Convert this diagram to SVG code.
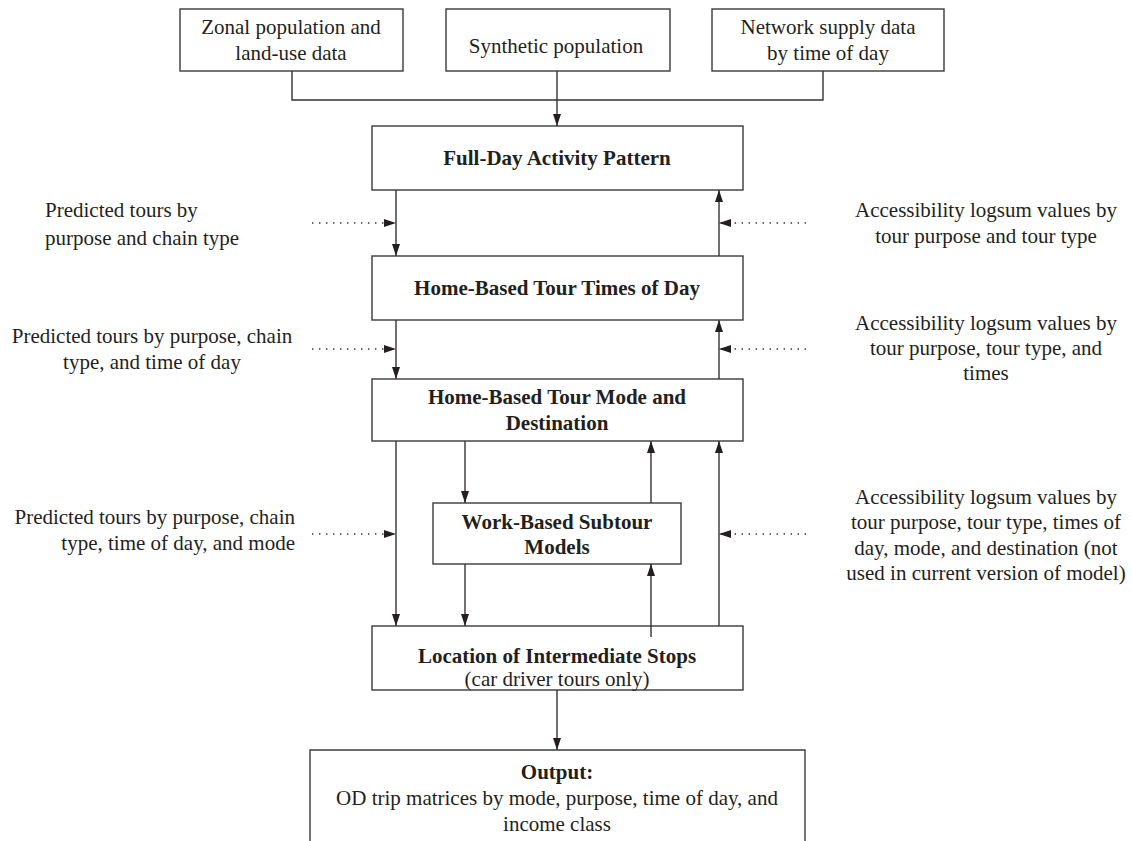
<svg xmlns="http://www.w3.org/2000/svg" width="1132" height="841" viewBox="0 0 1132 841">
<style>
.box{fill:#fff;stroke:#3a3a3a;stroke-width:1.4}
.t{font-family:"Liberation Serif","Times New Roman",serif;font-size:21px;fill:#231f20}
.b{font-weight:bold}
.m{text-anchor:middle}
.e{text-anchor:end}
.ln{fill:none;stroke:#333;stroke-width:1.4}
.dot{fill:none;stroke:#333;stroke-width:1.4;stroke-dasharray:1.4 5.6}
</style>
<defs>
<marker id="ah" viewBox="0 0 12 8" refX="12" refY="4" markerWidth="12" markerHeight="8" markerUnits="userSpaceOnUse" orient="auto"><path d="M0,0 L12,4 L0,8 z" fill="#231f20"/></marker>
</defs>
<rect width="1132" height="841" fill="#fff"/>
<g id="connectors">
<path class="ln" d="M292,71 V100 H823 V71"/>
<path class="ln" d="M557,71 V126" marker-end="url(#ah)"/>
<path class="ln" d="M396,190 V256" marker-end="url(#ah)"/>
<path class="ln" d="M719,256 V190" marker-end="url(#ah)"/>
<path class="dot" d="M312,223 H396" marker-end="url(#ah)"/>
<path class="dot" d="M806,223 H719" marker-end="url(#ah)"/>
<path class="ln" d="M396,320 V379" marker-end="url(#ah)"/>
<path class="ln" d="M719,379 V320" marker-end="url(#ah)"/>
<path class="dot" d="M312,349 H396" marker-end="url(#ah)"/>
<path class="dot" d="M806,349 H719" marker-end="url(#ah)"/>
<path class="ln" d="M396,441 V626" marker-end="url(#ah)"/>
<path class="ln" d="M465,441 V503" marker-end="url(#ah)"/>
<path class="ln" d="M651,503 V441" marker-end="url(#ah)"/>
<path class="ln" d="M719,626 V441" marker-end="url(#ah)"/>
<path class="dot" d="M312,534 H396" marker-end="url(#ah)"/>
<path class="dot" d="M806,534 H719" marker-end="url(#ah)"/>
<path class="ln" d="M465,564 V626" marker-end="url(#ah)"/>
<path class="ln" d="M557,690 V750" marker-end="url(#ah)"/>
</g>
<g id="zonal"><rect class="box" x="180" y="9" width="223" height="62"/>
<text class="t m" x="291" y="34">Zonal population and</text>
<text class="t m" x="291" y="60">land-use data</text></g>
<g id="synthetic"><rect class="box" x="446" y="9" width="224" height="62"/>
<text class="t m" x="556" y="53">Synthetic population</text></g>
<g id="network"><rect class="box" x="712" y="9" width="232" height="62"/>
<text class="t m" x="828" y="34">Network supply data</text>
<text class="t m" x="828" y="60">by time of day</text></g>
<g id="fullday"><rect class="box" x="372" y="126" width="371" height="64"/>
<text class="t b m" x="557" y="165">Full-Day Activity Pattern</text></g>
<g id="hbtimes"><rect class="box" x="372" y="256" width="371" height="64"/>
<text class="t b m" x="557" y="295">Home-Based Tour Times of Day</text></g>
<g id="hbmode"><rect class="box" x="372" y="379" width="371" height="62"/>
<text class="t b m" x="557" y="404">Home-Based Tour Mode and</text>
<text class="t b m" x="557" y="430">Destination</text></g>
<g id="workbased"><rect class="box" x="433" y="503" width="248" height="61"/>
<text class="t b m" x="557" y="529">Work-Based Subtour</text>
<text class="t b m" x="557" y="554">Models</text></g>
<g id="stops"><rect class="box" x="372" y="626" width="371" height="64"/>
<text class="t b m" x="557" y="663">Location of Intermediate Stops</text>
<text class="t m" x="557" y="686">(car driver tours only)</text></g>
<g id="stops-up"><path class="ln" d="M651,637 V564" marker-end="url(#ah)"/></g>
<g id="output"><path class="box" d="M310,842 V750 H805 V842"/>
<text class="t b m" x="557" y="779">Output:</text>
<text class="t m" x="557" y="805">OD trip matrices by mode, purpose, time of day, and</text>
<text class="t m" x="557" y="831">income class</text></g>
<g id="left-labels">
<text class="t" x="45" y="217">Predicted tours by</text>
<text class="t" x="45" y="245">purpose and chain type</text>
<text class="t m" x="152" y="343">Predicted tours by purpose, chain</text>
<text class="t m" x="152" y="369">type, and time of day</text>
<text class="t e" x="295" y="524">Predicted tours by purpose, chain</text>
<text class="t e" x="295" y="550">type, time of day, and mode</text>
</g>
<g id="right-labels">
<text class="t m" x="986" y="217">Accessibility logsum values by</text>
<text class="t m" x="986" y="243">tour purpose and tour type</text>
<text class="t m" x="986" y="330">Accessibility logsum values by</text>
<text class="t m" x="986" y="355">tour purpose, tour type, and</text>
<text class="t m" x="986" y="380">times</text>
<text class="t m" x="986" y="504">Accessibility logsum values by</text>
<text class="t m" x="986" y="529">tour purpose, tour type, times of</text>
<text class="t m" x="986" y="555">day, mode, and destination (not</text>
<text class="t m" x="986" y="580">used in current version of model)</text>
</g>
</svg>
